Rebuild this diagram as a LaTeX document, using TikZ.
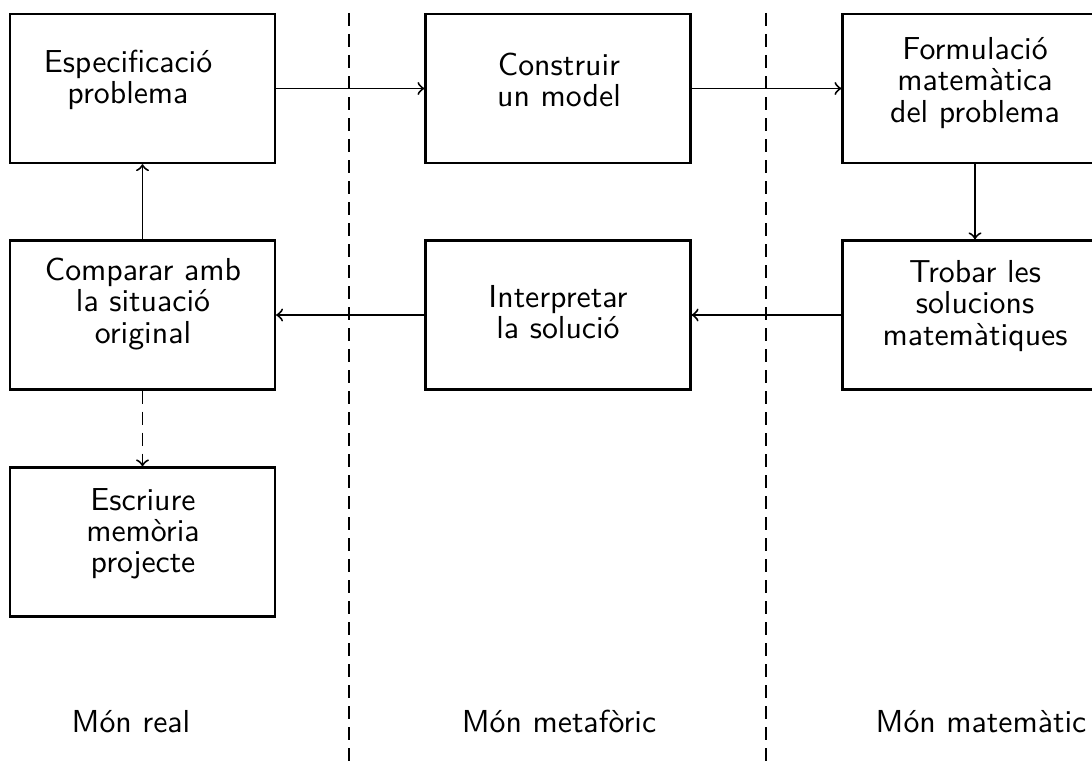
\documentclass[tikz,border=0pt]{standalone}
\begin{document}
\begin{tikzpicture}[x=0.3333pt,y=-0.3333pt,
  box/.style={draw,line width=0.75pt,minimum width=88.3pt,minimum height=49.7pt,inner sep=0pt},
  txt/.style={align=center,inner sep=0pt,font=\sffamily\fontsize{10.6pt}{10.4pt}\selectfont},
  world/.style={anchor=base,inner sep=0pt,font=\sffamily\fontsize{10.6pt}{12pt}\selectfont},
  flow/.style={->,line width=0.65pt},
  divider/.style={line width=0.75pt,dash pattern=on 4.3pt off 2.7pt}]
\useasboundingbox (0,0) rectangle (1092,766);
\clip (0,0) rectangle (1092,766);

% column boxes
\node[box] (spec) at (142.5,88.5) {};
\node[box] (model) at (558,88.5) {};
\node[box] (form) at (975,88.5) {};
\node[box] (comp) at (142.5,315) {};
\node[box] (interp) at (558,315) {};
\node[box] (solve) at (975,315) {};
\node[box] (write) at (142.5,542) {};

% box texts
\node[txt] (tspec) at (128,80) {Especificació\\problema};
\node[txt] (tmodel) at (559,80) {Construir\\un model};
\node[txt] (tform) at (975,83) {Formulació\\matemàtica\\del problema};
\node[txt] (tcomp) at (143,304) {Comparar amb\\la situació\\original};
\node[txt] (tinterp) at (558,312) {Interpretar\\la solució};
\node[txt] (tsolve) at (975,306) {Trobar les\\solucions\\matemàtiques};
\node[txt] (twrite) at (143,534) {Escriure\\memòria\\projecte};

% dividing lines between the worlds
\coordinate (d1t) at (349,13);
\coordinate (d1b) at (349,766);
\coordinate (d2t) at (766,13);
\coordinate (d2b) at (766,766);
\draw[divider] (d1t) -- (d1b);
\draw[divider] (d2t) -- (d2b);

% world names
\node[world] (real) at (131,732) {Món real};
\node[world] (meta) at (559,732) {Món metafòric};
\node[world] (mat) at (981,732) {Món matemàtic};

% flow of the modelling cycle
\draw[flow] (spec.east) -- (model.west);
\draw[flow] (model.east) -- (form.west);
\draw[flow] (form.south) -- (solve.north);
\draw[flow] (solve.west) -- (interp.east);
\draw[flow] (interp.west) -- (comp.east);
\draw[flow] (comp.north) -- (spec.south);
\draw[flow,dash pattern=on 4.3pt off 2.7pt] (comp.south) -- (write.north);
\end{tikzpicture}
\end{document}
